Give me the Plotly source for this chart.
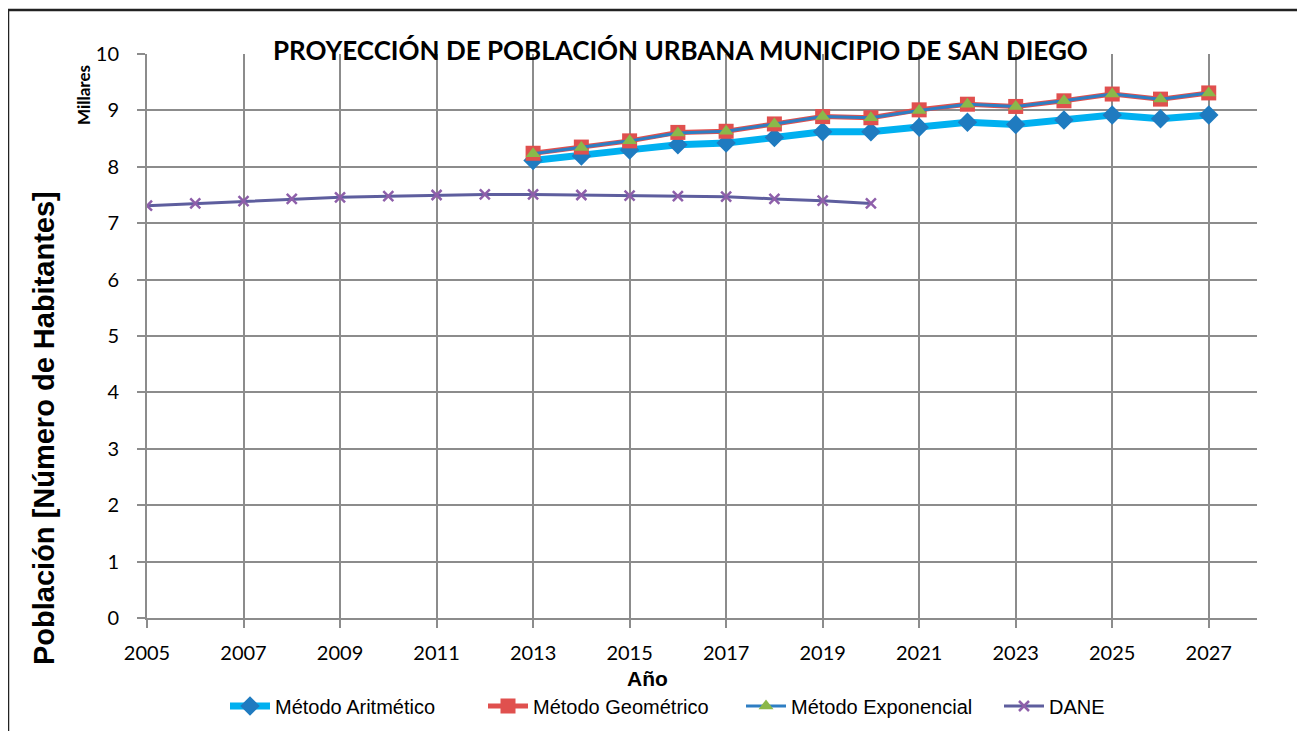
import plotly.graph_objects as go

years_proj = list(range(2013, 2028))
aritmetico = [8.11, 8.19, 8.30, 8.39, 8.42, 8.52, 8.62, 8.62, 8.70, 8.79, 8.75, 8.83, 8.92, 8.85, 8.92]
geometrico = [8.24, 8.35, 8.46, 8.61, 8.63, 8.76, 8.89, 8.87, 9.01, 9.11, 9.07, 9.17, 9.29, 9.20, 9.31]
exponencial = [8.23, 8.34, 8.46, 8.60, 8.63, 8.76, 8.89, 8.87, 9.00, 9.11, 9.07, 9.17, 9.29, 9.20, 9.31]
years_dane = list(range(2005, 2021))
dane = [7.31, 7.35, 7.39, 7.43, 7.46, 7.48, 7.50, 7.51, 7.51, 7.50, 7.49, 7.48, 7.47, 7.43, 7.40, 7.35]

x_ticks = list(range(2005, 2028, 2))
y_ticks = list(range(0, 11))

fig = go.Figure()
fig.add_trace(go.Scatter(x=years_proj, y=aritmetico, name="Método Aritmético", mode="lines+markers",
                         line=dict(color="#00B0F0", width=7),
                         marker=dict(symbol="diamond", size=15, color="#1F7BC0")))
fig.add_trace(go.Scatter(x=years_proj, y=geometrico, name="Método Geométrico", mode="lines+markers",
                         line=dict(color="#E0504E", width=5),
                         marker=dict(symbol="square", size=15, color="#E0504E")))
fig.add_trace(go.Scatter(x=years_proj, y=exponencial, name="Método Exponencial", mode="lines+markers",
                         line=dict(color="#2E7EC3", width=3),
                         marker=dict(symbol="triangle-up", size=13, color="#8BB84A")))
fig.add_trace(go.Scatter(x=years_dane, y=dane, name="DANE", mode="lines+markers",
                         line=dict(color="#5E5E9E", width=3),
                         marker=dict(symbol="x-thin", size=10, line=dict(width=2.5, color="#8E5FAA"), color="#8E5FAA")))

OFF = 8  # browser body margin
W, H = 1305 - OFF, 731 - OFF
PL, PR, PT, PB = 147 - OFF, 1257 - OFF, 54 - OFF, 618 - OFF

def px(x):
    return (x - OFF - PL) / (PR - PL)

def py(y):
    return (PB - (y - OFF)) / (PB - PT)

fig.update_layout(
    width=W, height=H,
    margin=dict(l=PL, r=W - PR, t=PT, b=H - PB, autoexpand=False),
    paper_bgcolor="white", plot_bgcolor="white",
    font=dict(family="Lato, sans-serif", color="black"),
    showlegend=True,
    legend=dict(orientation="h", x=px(225), xanchor="left", y=py(706), yanchor="middle",
                font=dict(family="Liberation Sans, Arial", size=20), itemwidth=40,
                entrywidth=203, entrywidthmode="pixels",
                tracegroupgap=0, bgcolor="rgba(0,0,0,0)"),
    xaxis=dict(range=[2005, 2028], tickvals=x_ticks, ticktext=[str(v) for v in x_ticks],
               showgrid=True, gridcolor="#8C8C8C", gridwidth=2,
               showline=True, linecolor="#8C8C8C", linewidth=2,
               ticks="outside", ticklen=8, tickwidth=2, tickcolor="#8C8C8C",
               tickfont=dict(size=20, family="Lato"), zeroline=False, ticklabelstandoff=8),
    yaxis=dict(range=[0, 10], tickvals=y_ticks, showgrid=True, gridcolor="#8C8C8C", gridwidth=2,
               showline=True, linecolor="#8C8C8C", linewidth=2,
               ticks="outside", ticklen=8, tickwidth=2, tickcolor="#8C8C8C",
               tickfont=dict(size=20, family="Lato"), zeroline=False, ticklabelstandoff=14),
)

# outer frame: only the left and top edges are visible in the reference
fx, fy_top, fy_bot, fx_right = px(8), py(10), py(800), px(1400)
fig.add_shape(type="path", xref="paper", yref="paper",
              path=f"M {fx},{fy_bot} L {fx},{fy_top} L {fx_right},{fy_top}",
              line=dict(color="#222222", width=2.5), layer="above")

fig.add_annotation(text="<b>PROYECCIÓN DE POBLACIÓN URBANA MUNICIPIO DE SAN DIEGO</b>",
                   xref="paper", yref="paper", x=px(680), y=py(50), showarrow=False,
                   xanchor="center", yanchor="middle",
                   font=dict(family="Lato", size=26, color="black"), bgcolor="rgba(0,0,0,0)")
fig.add_annotation(text="<b>Población [Número de Habitantes]</b>", xref="paper", yref="paper",
                   x=px(44), y=py(428), showarrow=False, textangle=-90, xanchor="center", yanchor="middle",
                   font=dict(family="Liberation Sans", size=29, color="black"))
fig.add_annotation(text="<b>Millares</b>", xref="paper", yref="paper",
                   x=px(84), y=py(95), showarrow=False, textangle=-90, xanchor="center", yanchor="middle",
                   font=dict(family="Lato", size=17, color="black"))
fig.add_annotation(text="<b>Año</b>", xref="paper", yref="paper",
                   x=px(647), y=py(678), showarrow=False, xanchor="center", yanchor="middle",
                   font=dict(family="Liberation Sans", size=21, color="black"))

fig.write_html("out.html")
